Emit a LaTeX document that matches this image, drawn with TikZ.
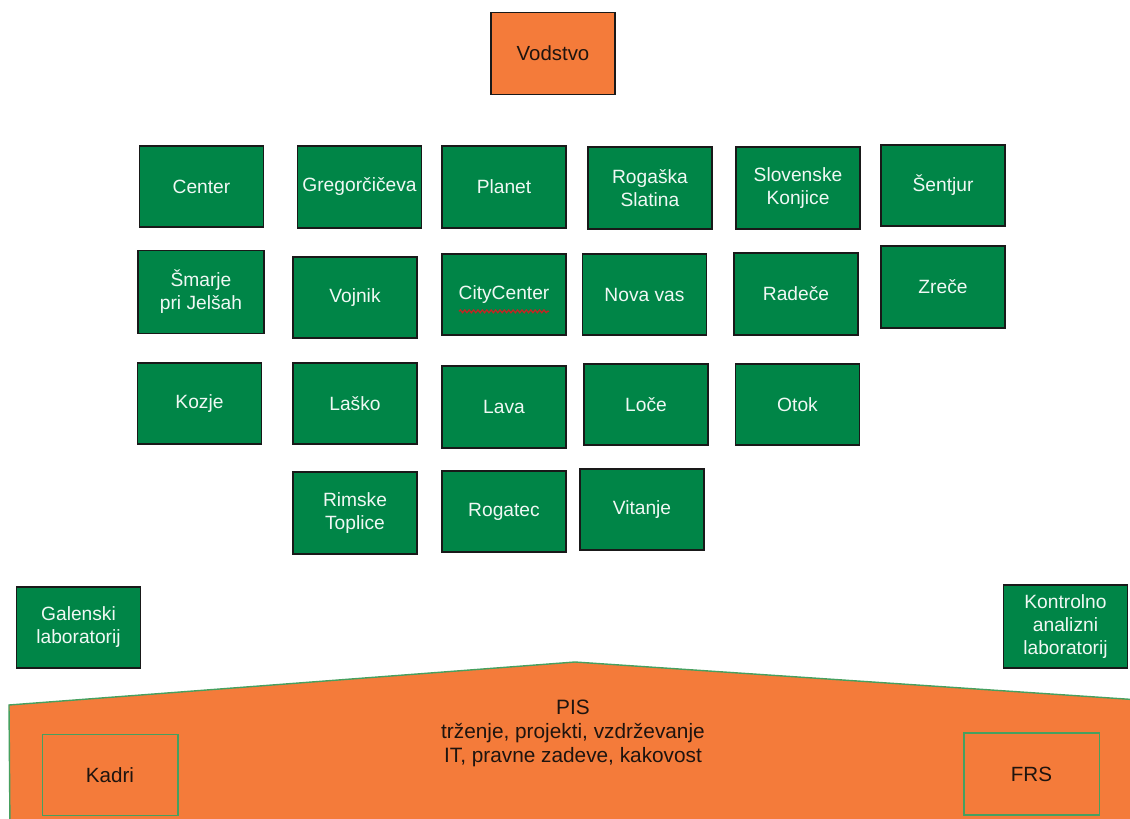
\documentclass[tikz,border=0pt]{standalone}
\usepackage{fontspec}
\setmainfont{Liberation Sans}
\usetikzlibrary{decorations.pathmorphing}
\definecolor{gfill}{RGB}{0,133,71}
\definecolor{ofill}{RGB}{244,123,58}
\definecolor{gline}{RGB}{70,160,95}
\definecolor{otext}{RGB}{30,20,15}
\definecolor{wavy}{RGB}{190,40,35}
\begin{document}
\begin{tikzpicture}[x=0.5pt,y=-0.5pt,
  gbox/.style={draw=black!90, line width=0.95pt, fill=gfill, text=white!94!gfill,
    font=\fontsize{9.6}{11.5}\selectfont, align=center,
    minimum width=62pt, minimum height=40.75pt, inner sep=0pt},
  obox/.style={draw=black!90, line width=0.95pt, fill=ofill, text=otext,
    font=\fontsize{10.2}{12}\selectfont, align=center,
    minimum width=62pt, minimum height=41pt, inner sep=0pt},
  ibox/.style={draw=gline, line width=0.75pt, fill=ofill, text=otext,
    font=\fontsize{10.3}{12}\selectfont, align=center,
    minimum width=67.75pt, minimum height=40.5pt, inner sep=0pt},
  pistext/.style={text=otext, font=\fontsize{10.4}{12}\selectfont, align=center, inner sep=0pt},
  pent/.style={draw=gline, line width=0.7pt, fill=ofill}
]
\useasboundingbox (0,0) rectangle (1130,819);
\fill[white] (0,0) rectangle (1130,819);

% top
\node[obox] (vodstvo) at (553,53.5) {Vodstvo};

% row 1
\node[gbox] (center) at (201.5,186.5) {Center};
\node[gbox] (gregor) at (359.5,187) {Gregorčičeva};
\node[gbox] (planet) at (504,187) {Planet};
\node[gbox] (rogaska) at (650,188) {Rogaška\\Slatina};
\node[gbox] (slokon) at (798,188) {Slovenske\\Konjice};
\node[gbox] (sentjur) at (943,185.5) {Šentjur};

% row 2
\node[gbox, minimum width=63pt, minimum height=41.5pt] (smarje) at (201,292) {Šmarje\\pri Jelšah};
\node[gbox] (vojnik) at (355,297.5) {Vojnik};
\node[gbox] (city) at (504,294.5) {CityCenter};
\node[gbox] (novavas) at (644.5,294.5) {Nova vas};
\node[gbox] (radece) at (796,294) {Radeče};
\node[gbox] (zrece) at (943,287) {Zreče};

% row 3
\node[gbox] (kozje) at (199.5,403.5) {Kozje};
\node[gbox] (lasko) at (355,403.5) {Laško};
\node[gbox] (lava) at (504,407) {Lava};
\node[gbox] (loce) at (646,404.5) {Loče};
\node[gbox] (otok) at (797.5,404.5) {Otok};

% row 4
\node[gbox] (rimske) at (355,513) {Rimske\\Toplice};
\node[gbox] (rogatec) at (504,511.5) {Rogatec};
\node[gbox] (vitanje) at (642,509.5) {Vitanje};

% laboratories
\node[gbox] (galenski) at (78.5,627.5) {Galenski\\laboratorij};
\node[gbox, minimum height=41.5pt] (kontrolno) at (1065.5,626.5) {Kontrolno\\analizni\\laboratorij};

% spell-check underline under CityCenter
\draw[wavy, line width=0.65pt, decorate, decoration={snake, amplitude=0.7pt, segment length=2.2pt}]
  ([xshift=-22.5pt,yshift=-8.4pt]city.center) -- ([xshift=22.5pt,yshift=-8.4pt]city.center);

% PIS base shape
\draw[pent] (9,705) -- (575,662) -- (1140,700) -- (1140,830) -- (10,830) -- cycle;
\node[pistext] (pis) at (573,733) {PIS\\trženje, projekti, vzdrževanje\\IT, pravne zadeve, kakovost};

\node[ibox] (kadri) at (110,775) {Kadri};
\node[ibox, minimum height=41pt] (frs) at (1031.5,774) {FRS};
\end{tikzpicture}
\end{document}
